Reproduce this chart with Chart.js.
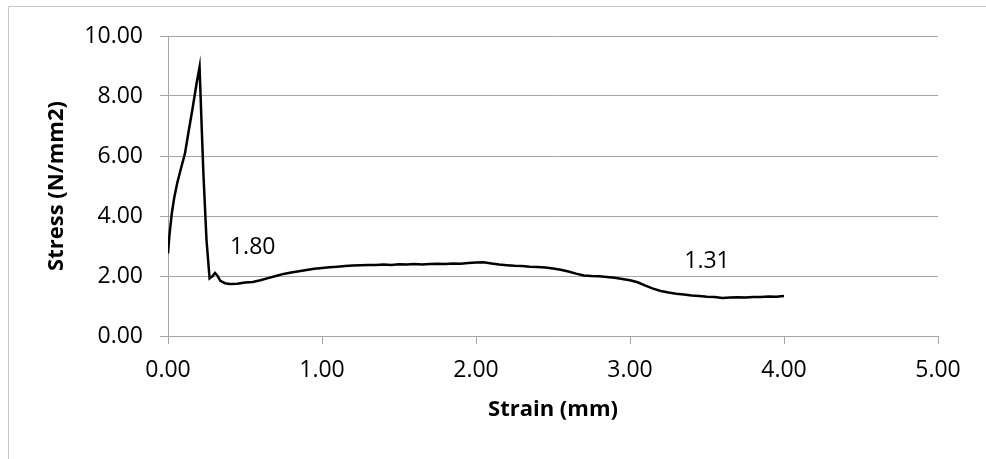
<!DOCTYPE html>
<html>
<head>
<meta charset="utf-8">
<script src="https://cdn.jsdelivr.net/npm/chart.js@4.4.1/dist/chart.umd.min.js"></script>
<style>
  html, body { margin: 0; padding: 0; background: #fff; }
  #wrap { width: 986px; height: 459px; }
</style>
</head>
<body>
<div id="wrap"><canvas id="myChart" width="986" height="459"></canvas></div>
<script>
// strain (mm) and stress (N/mm2) samples of the test curve
let strainX = [
  0.000, 0.010, 0.025, 0.040, 0.060, 0.085, 0.110, 0.130, 0.160, 0.185,
  0.205, 0.215, 0.230, 0.250, 0.270, 0.290, 0.305, 0.320, 0.340, 0.370,
  0.400, 0.450, 0.500, 0.550, 0.600, 0.650, 0.700, 0.750, 0.800, 0.850,
  0.900, 0.950, 1.000, 1.050, 1.100, 1.150, 1.200, 1.250, 1.300, 1.350,
  1.400, 1.450, 1.500, 1.550, 1.600, 1.650, 1.700, 1.750, 1.800, 1.850,
  1.900, 1.950, 2.000, 2.050, 2.100, 2.150, 2.200, 2.250, 2.300, 2.350,
  2.400, 2.450, 2.500, 2.550, 2.600, 2.650, 2.700, 2.750, 2.800, 2.850,
  2.900, 2.950, 3.000, 3.050, 3.100, 3.150, 3.200, 3.250, 3.300, 3.350,
  3.400, 3.450, 3.500, 3.550, 3.600, 3.650, 3.700, 3.750, 3.800, 3.850,
  3.900, 3.950, 4.000
];
let stressY = [
  2.75, 3.40, 4.10, 4.60, 5.10, 5.60, 6.08, 6.70, 7.60, 8.40,
  8.97, 7.50, 5.40, 3.20, 1.92, 2.00, 2.10, 2.02, 1.84, 1.76,
  1.73, 1.74, 1.78, 1.80, 1.86, 1.93, 2.00, 2.07, 2.12, 2.16,
  2.20, 2.24, 2.27, 2.29, 2.31, 2.33, 2.35, 2.36, 2.37, 2.37,
  2.38, 2.37, 2.39, 2.38, 2.40, 2.38, 2.40, 2.41, 2.40, 2.42,
  2.41, 2.43, 2.45, 2.46, 2.42, 2.38, 2.36, 2.34, 2.33, 2.31,
  2.30, 2.28, 2.25, 2.21, 2.15, 2.08, 2.02, 2.00, 1.99, 1.97,
  1.94, 1.90, 1.86, 1.79, 1.68, 1.58, 1.50, 1.45, 1.41, 1.38,
  1.35, 1.33, 1.31, 1.30, 1.27, 1.28, 1.29, 1.28, 1.30, 1.30,
  1.32, 1.31, 1.33
];
// points that get a value label
let labelStrain = [0.55, 3.50];

let xTicks = [0, 1, 2, 3, 4, 5];
let yTicks = [0, 2, 4, 6, 8, 10];

const gridGray = "#a6a6a6";
const tickFont = { family: "'Open Sans'", size: 23 };
const titleFont = { family: "'Open Sans'", size: 22, weight: "bold" };

// light frame round the whole chart
const frame = {
  id: "frame",
  beforeDraw(chart) {
    const ctx = chart.ctx;
    ctx.save();
    ctx.fillStyle = "#fff";
    ctx.fillRect(0, 0, chart.width, chart.height);
    ctx.strokeStyle = "#c8c8c8";
    ctx.lineWidth = 1;
    ctx.beginPath();
    ctx.moveTo(8.5, chart.height);
    ctx.lineTo(8.5, 6.5);
    ctx.lineTo(chart.width, 6.5);
    ctx.stroke();
    ctx.restore();
  },
};

// value labels above chosen points
const valueLabels = {
  id: "valueLabels",
  afterDatasetsDraw(chart) {
    const ctx = chart.ctx;
    const xs = chart.scales.x;
    const ys = chart.scales.y;
    ctx.save();
    ctx.font = "23px 'Open Sans'";
    ctx.fillStyle = "#000";
    ctx.textAlign = "center";
    ctx.textBaseline = "middle";
    labelStrain.forEach((s) => {
      const i = strainX.indexOf(s);
      const px = xs.getPixelForValue(strainX[i]);
      const py = ys.getPixelForValue(stressY[i]);
      ctx.fillText(stressY[i].toFixed(2), px, py - 35);
    });
    ctx.restore();
  },
};

const ctx = document.getElementById("myChart").getContext("2d");
const myChart = new Chart(ctx, {
  type: "scatter",
  data: {
    datasets: [
      {
        data: strainX.map((x, i) => ({ x: x, y: stressY[i] })),
        showLine: true,
        borderColor: "#000",
        borderWidth: 2.5,
        pointRadius: 0,
        tension: 0,
      },
    ],
  },
  options: {
    responsive: false,
    animation: false,
    layout: { padding: { top: 36, right: 48, bottom: 0, left: 0 } },
    plugins: { legend: { display: false }, tooltip: { enabled: false } },
    scales: {
      x: {
        type: "linear",
        min: 0,
        max: 5,
        afterBuildTicks: (axis) => {
          axis.ticks = xTicks.map((v) => ({ value: v }));
        },
        afterFit: (axis) => {
          axis.height = 123;
        },
        grid: { drawOnChartArea: false, drawTicks: true, tickLength: 8, color: gridGray },
        border: { display: true, color: gridGray },
        ticks: {
          color: "#000",
          font: tickFont,
          padding: 13,
          maxRotation: 0,
          callback: (v) => v.toFixed(2),
        },
        title: {
          display: true,
          text: "Strain (mm)",
          color: "#000",
          font: titleFont,
          padding: { top: 0, bottom: 36 },
        },
      },
      y: {
        type: "linear",
        min: 0,
        max: 10,
        afterBuildTicks: (axis) => {
          axis.ticks = yTicks.map((v) => ({ value: v }));
        },
        afterFit: (axis) => {
          axis.width = 168;
        },
        grid: { drawOnChartArea: true, drawTicks: true, tickLength: 8, color: gridGray },
        border: { display: true, color: gridGray },
        ticks: {
          color: "#000",
          font: tickFont,
          padding: 17,
          callback: (v) => v.toFixed(2),
        },
        title: {
          display: true,
          text: "Stress (N/mm2)",
          color: "#000",
          font: titleFont,
          padding: { top: 44, bottom: 0 },
        },
      },
    },
  },
  plugins: [frame, valueLabels],
});
</script>
</body>
</html>
